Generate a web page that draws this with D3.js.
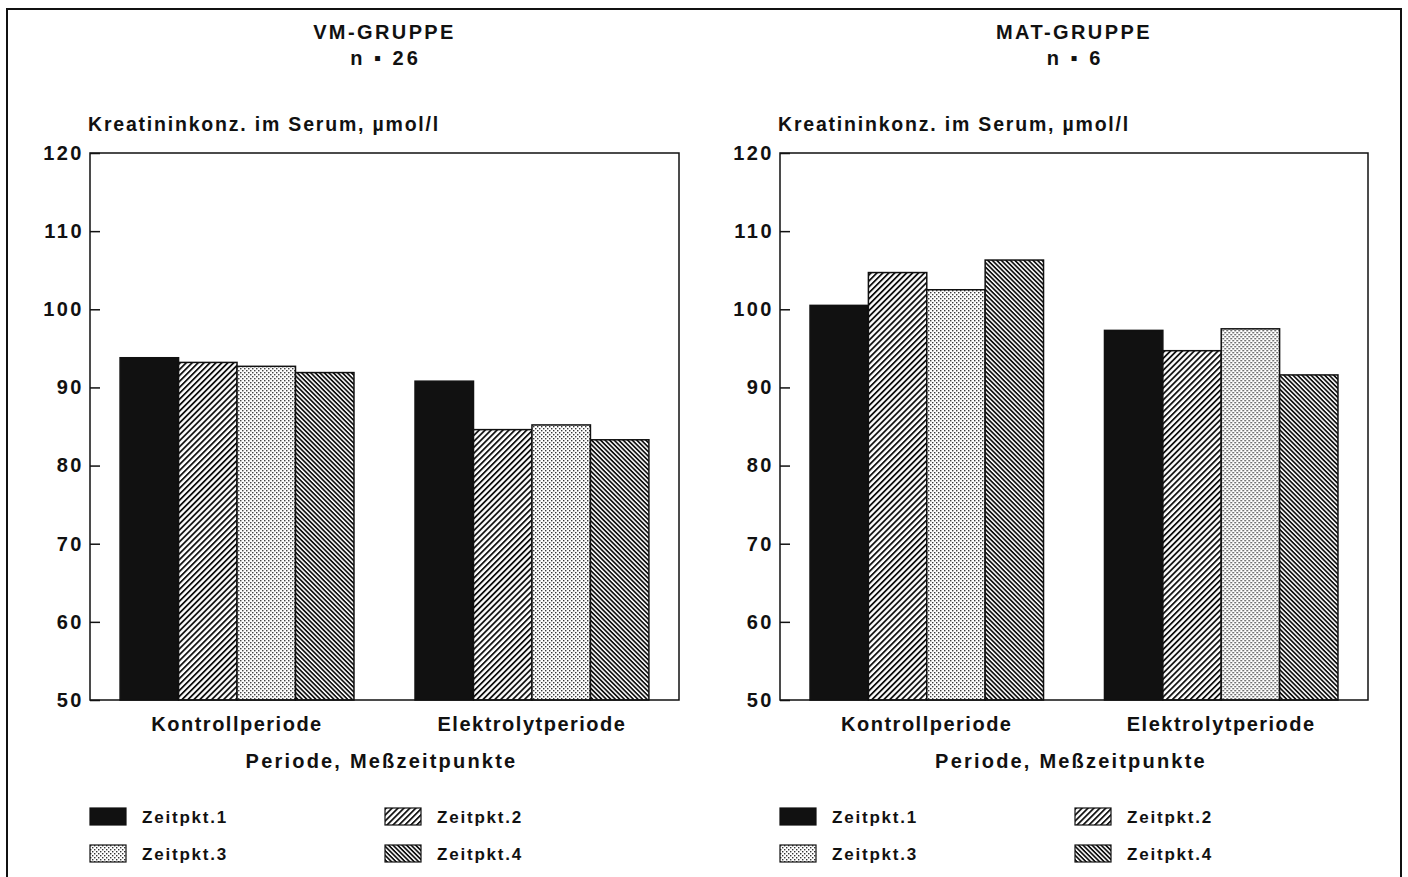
<!DOCTYPE html>
<html>
<head>
<meta charset="utf-8">
<script src="https://cdn.jsdelivr.net/npm/d3@7"></script>
<style>
  body { margin: 0; background: #fff; }
  svg text { font-family: "Liberation Sans", Arial, sans-serif; font-weight: bold; fill: #111; }
</style>
</head>
<body>
<svg id="chart"></svg>
<script>
const width = 1408;
const height = 877;

const periods = ['Kontrollperiode', 'Elektrolytperiode'];
const timepoints = ['Zeitpkt.1', 'Zeitpkt.2', 'Zeitpkt.3', 'Zeitpkt.4'];
const groupTitles = ['VM-GRUPPE', 'MAT-GRUPPE'];
const groupN = ['n \u25AA 26', 'n \u25AA 6'];
const vmValues = [[93.8, 93.2, 92.7, 91.9], [90.8, 84.6, 85.2, 83.3]];
const matValues = [[100.5, 104.7, 102.5, 106.3], [97.3, 94.7, 97.5, 91.6]];
const yTicks = [50, 60, 70, 80, 90, 100, 110, 120];
const yLabel = 'Kreatininkonz. im Serum, \u00B5mol/l';
const xLabel = 'Periode, Me\u00DFzeitpunkte';

const svg = d3.select('#chart')
    .attr('width', width)
    .attr('height', height);

// outer frame, runs off the bottom like in the scan
svg.append('rect')
    .attr('x', 7).attr('y', 9)
    .attr('width', 1394).attr('height', 900)
    .attr('fill', 'none')
    .attr('stroke', '#111')
    .attr('stroke-width', 2);

// fill patterns
const defs = svg.append('defs');

const p2 = defs.append('pattern')
    .attr('id', 'pat2')
    .attr('patternUnits', 'userSpaceOnUse')
    .attr('width', 10).attr('height', 4.2)
    .attr('patternTransform', 'rotate(-45)');
p2.append('rect').attr('width', 10).attr('height', 4.2).attr('fill', '#fff');
p2.append('rect').attr('width', 10).attr('height', 1.8).attr('fill', '#111');

const p3 = defs.append('pattern')
    .attr('id', 'pat3')
    .attr('patternUnits', 'userSpaceOnUse')
    .attr('width', 4).attr('height', 4);
p3.append('rect').attr('width', 4).attr('height', 4).attr('fill', '#fff');
p3.append('rect').attr('x', 0).attr('y', 0).attr('width', 1.4).attr('height', 1.4).attr('fill', '#333');
p3.append('rect').attr('x', 2).attr('y', 2).attr('width', 1.4).attr('height', 1.4).attr('fill', '#333');

const p4 = defs.append('pattern')
    .attr('id', 'pat4')
    .attr('patternUnits', 'userSpaceOnUse')
    .attr('width', 10).attr('height', 3.2)
    .attr('patternTransform', 'rotate(45)');
p4.append('rect').attr('width', 10).attr('height', 3.2).attr('fill', '#fff');
p4.append('rect').attr('width', 10).attr('height', 1.7).attr('fill', '#111');

const fills = d3.scaleOrdinal()
    .domain(timepoints)
    .range(['#111', 'url(#pat2)', 'url(#pat3)', 'url(#pat4)']);

const plotTop = 153;
const plotBottom = 700;

const y = d3.scaleLinear().domain([50, 120]).range([plotBottom, plotTop]);

function drawPanel(x0, x1, title, nText, values) {
    const g = svg.append('g');
    const cx = (x0 + x1) / 2;

    g.append('text')
        .attr('x', cx).attr('y', 39)
        .attr('text-anchor', 'middle')
        .style('font-size', '20px')
        .style('letter-spacing', '2.4px')
        .text(title);
    g.append('text')
        .attr('x', cx + 1).attr('y', 65)
        .attr('text-anchor', 'middle')
        .style('font-size', '20px')
        .style('letter-spacing', '3px')
        .text(nText);

    g.append('text')
        .attr('x', x0 - 2).attr('y', 131)
        .style('font-size', '19.5px')
        .style('letter-spacing', '1.8px')
        .text(yLabel);

    const x = d3.scaleBand()
        .domain(periods)
        .range([x0, x1])
        .paddingInner(0.207)
        .paddingOuter(0.102);

    const xSub = d3.scaleBand()
        .domain(timepoints)
        .range([0, x.bandwidth()]);

    const groups = g.selectAll('.period').data(periods).enter().append('g')
        .attr('transform', d => `translate(${x(d)},0)`);

    groups.selectAll('rect')
        .data((d, i) => values[i].map((v, j) => ({tp: timepoints[j], v: v})))
        .enter().append('rect')
        .attr('x', d => xSub(d.tp))
        .attr('y', d => y(d.v))
        .attr('width', xSub.bandwidth())
        .attr('height', d => y(50) - y(d.v))
        .attr('fill', d => fills(d.tp))
        .attr('stroke', '#111')
        .attr('stroke-width', 1.5);

    // frame
    g.append('rect')
        .attr('x', x0).attr('y', plotTop)
        .attr('width', x1 - x0).attr('height', plotBottom - plotTop)
        .attr('fill', 'none')
        .attr('stroke', '#111')
        .attr('stroke-width', 1.5);

    const yAxis = g.append('g')
        .attr('transform', `translate(${x0},0)`)
        .call(d3.axisLeft(y).tickValues(yTicks).tickSizeInner(-10).tickSizeOuter(0).tickPadding(6));
    yAxis.select('.domain').remove();
    yAxis.selectAll('line').attr('stroke', '#111').attr('stroke-width', 1.5);
    yAxis.selectAll('text')
        .style('font-size', '20px')
        .style('letter-spacing', '2.5px')
        .style('font-family', '"Liberation Sans", Arial, sans-serif')
        .style('font-weight', 'bold')
        .attr('fill', '#111');

    g.selectAll('.cat').data(periods).enter().append('text')
        .attr('x', d => x(d) + x.bandwidth() / 2)
        .attr('y', 731)
        .attr('text-anchor', 'middle')
        .style('font-size', '20px')
        .style('letter-spacing', '1.5px')
        .text(d => d);

    g.append('text')
        .attr('x', cx - 3).attr('y', 768)
        .attr('text-anchor', 'middle')
        .style('font-size', '20px')
        .style('letter-spacing', '2.2px')
        .text(xLabel);

    // legend
    const leg = g.selectAll('.leg').data(timepoints).enter().append('g')
        .attr('transform', (d, i) => `translate(${x0 + (i % 2) * 295},${808 + Math.floor(i / 2) * 37})`);
    leg.append('rect')
        .attr('width', 36).attr('height', 17)
        .attr('fill', d => fills(d))
        .attr('stroke', '#111')
        .attr('stroke-width', 1.2);
    leg.append('text')
        .attr('x', 52).attr('y', 15)
        .style('font-size', '17px')
        .style('letter-spacing', '1.8px')
        .text(d => d);
}

drawPanel(90, 679, groupTitles[0], groupN[0], vmValues);
drawPanel(780, 1368, groupTitles[1], groupN[1], matValues);
</script>
</body>
</html>
